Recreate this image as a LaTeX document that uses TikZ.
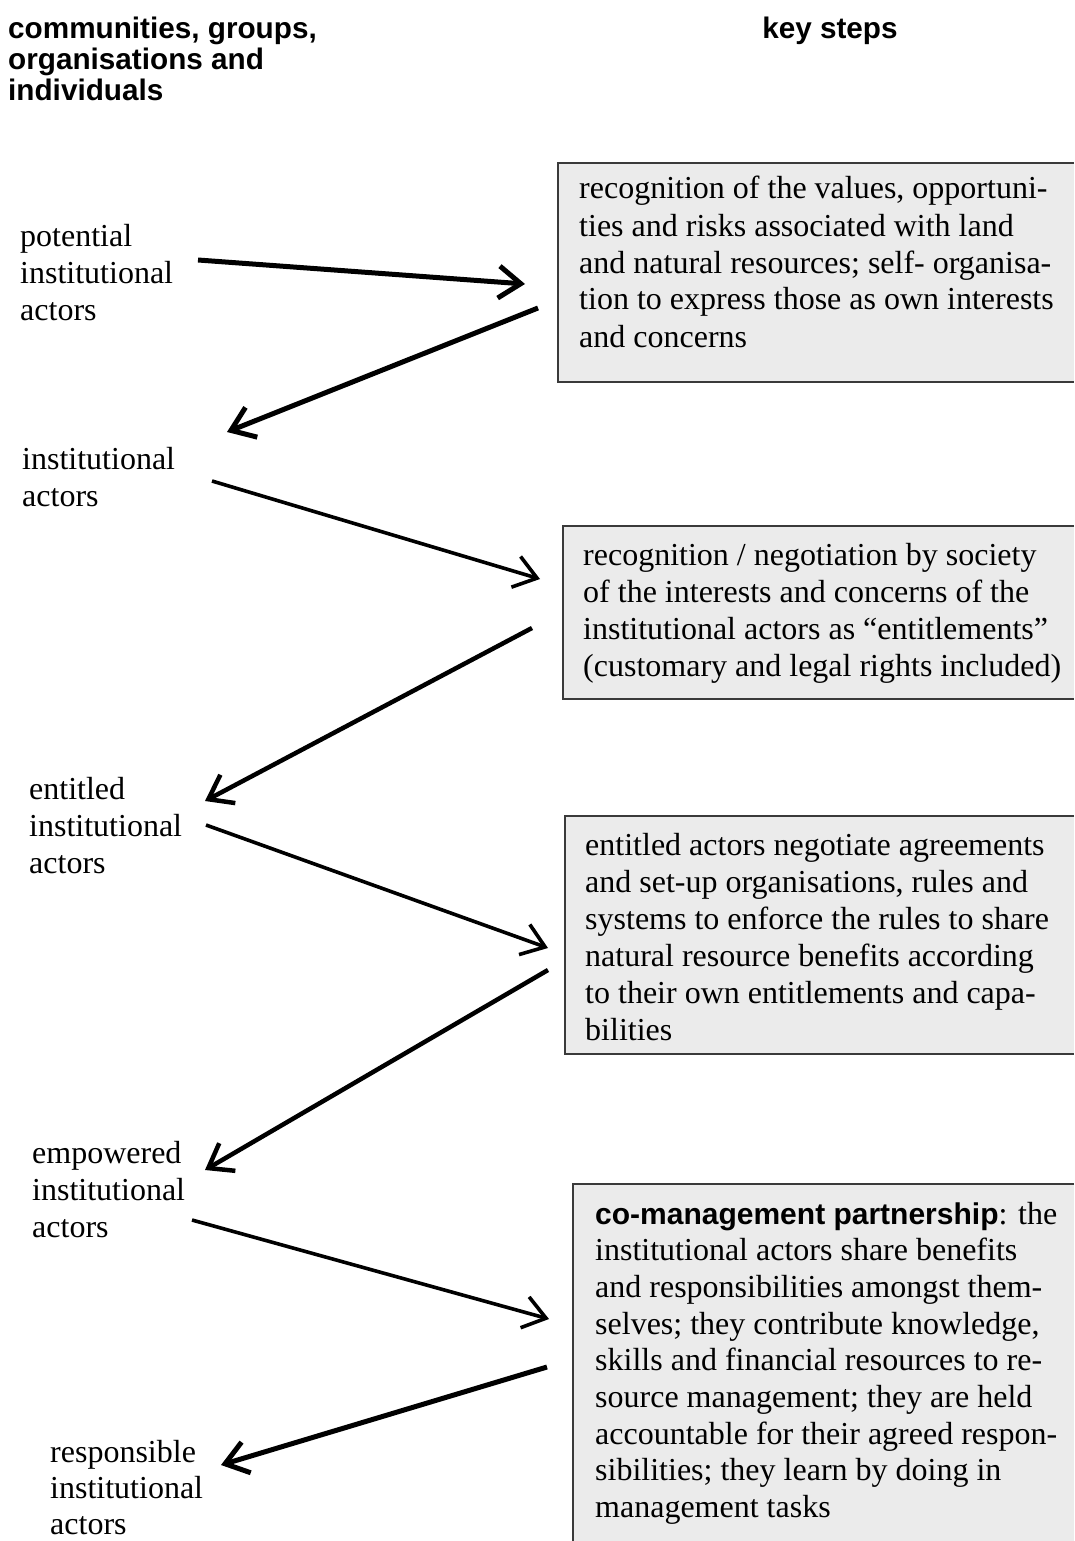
\documentclass[tikz,border=0pt]{standalone}
\usepackage{fontspec}
\setmainfont{Liberation Serif}
\newfontfamily\hdrfont{Liberation Sans}
\usetikzlibrary{arrows.meta}
\definecolor{boxgray}{HTML}{EBEBEB}
\definecolor{boxline}{HTML}{3A3A3A}
\begin{document}
\begin{tikzpicture}[x=1pt,y=-1pt,
  lbl/.style={anchor=base west, inner sep=0, text width=230pt, align=flush left, font=\fontsize{32}{37}\selectfont},
  hdr/.style={anchor=base west, inner sep=0, text width=400pt, align=flush left, font=\hdrfont\bfseries\fontsize{29.7}{31}\selectfont},
  boxtxt/.style={anchor=base west, inner sep=0, text width=530pt, align=flush left, font=\fontsize{32}{37}\selectfont},
  boxfill/.style={fill=boxgray},
  boxedge/.style={draw=boxline, line width=1.6pt},
  arr/.style={-{Straight Barb[length=22pt,width=32pt]}, line width=4pt, line cap=butt}
]
\useasboundingbox (0,0) rectangle (1074,1541);
\fill[white] (0,0) rectangle (1074,1541);

% headers
\node[hdr] (h1) at (8,39) {communities, groups,\\organisations and\\individuals};
\node[anchor=base, inner sep=0, font=\hdrfont\bfseries\fontsize{29.7}{31}\selectfont] (h2) at (830,39) {key steps};

% boxes
\fill[boxfill] (558,163) rectangle (1074,382);
\draw[boxedge] (1074,163) -- (558,163) -- (558,382) -- (1074,382);
\node[boxtxt] (b1) at (579,199) {recognition of the values, opportuni-\\ties and risks associated with land\\and natural resources; self- organisa-\\tion to express those as own interests\\and concerns};

\fill[boxfill] (563,526) rectangle (1074,699);
\draw[boxedge] (1074,526) -- (563,526) -- (563,699) -- (1074,699);
\node[boxtxt] (b2) at (583,565) {recognition / negotiation by society\\of the interests and concerns of the\\institutional actors as “entitlements”\\(customary and legal rights included)};

\fill[boxfill] (565,816) rectangle (1074,1054);
\draw[boxedge] (1074,816) -- (565,816) -- (565,1054) -- (1074,1054);
\node[boxtxt] (b3) at (585,855) {entitled actors negotiate agreements\\and set-up organisations, rules and\\systems to enforce the rules to share\\natural resource benefits according\\to their own entitlements and capa-\\bilities};

\fill[boxfill] (573,1184) rectangle (1074,1541);
\draw[boxedge] (1074,1184) -- (573,1184) -- (573,1541);
\node[boxtxt, font=\fontsize{32}{36.7}\selectfont] (b4) at (595,1224) {{\hdrfont\bfseries\fontsize{30}{36.7}\selectfont co-management partnership}: the\\institutional actors share benefits\\and responsibilities amongst them-\\selves; they contribute knowledge,\\skills and financial resources to re-\\source management; they are held\\accountable for their agreed respon-\\sibilities; they learn by doing in\\management tasks};

% left labels
\node[lbl] (l1) at (20,246) {potential\\institutional\\actors};
\node[lbl] (l2) at (22,469) {institutional\\actors};
\node[lbl] (l3) at (29,799) {entitled\\institutional\\actors};
\node[lbl] (l4) at (32,1163) {empowered\\institutional\\actors};
\node[lbl, font=\fontsize{32}{36}\selectfont] (l5) at (50,1462) {responsible\\institutional\\actors};

% arrow end points
\coordinate (a1s) at (198,260); \coordinate (a1e) at (525,284);
\coordinate (a2s) at (538,308); \coordinate (a2e) at (227,432);
\coordinate (a3s) at (212,481); \coordinate (a3e) at (540,579);
\coordinate (a4s) at (532,628); \coordinate (a4e) at (205,801);
\coordinate (a5s) at (206,825); \coordinate (a5e) at (548,948);
\coordinate (a6s) at (548,970); \coordinate (a6e) at (205,1170);
\coordinate (a7s) at (192,1220); \coordinate (a7e) at (549,1319);
\coordinate (a8s) at (547,1367); \coordinate (a8e) at (221,1465);

\draw[arr, line width=5pt] (a1s) -- (a1e);
\draw[arr, line width=5pt] (a2s) -- (a2e);
\draw[arr, line width=3.6pt] (a3s) -- (a3e);
\draw[arr, line width=4.5pt] (a4s) -- (a4e);
\draw[arr, line width=3.6pt] (a5s) -- (a5e);
\draw[arr, line width=4.5pt] (a6s) -- (a6e);
\draw[arr, line width=3.6pt] (a7s) -- (a7e);
\draw[arr, line width=5pt] (a8s) -- (a8e);
\end{tikzpicture}
\end{document}
